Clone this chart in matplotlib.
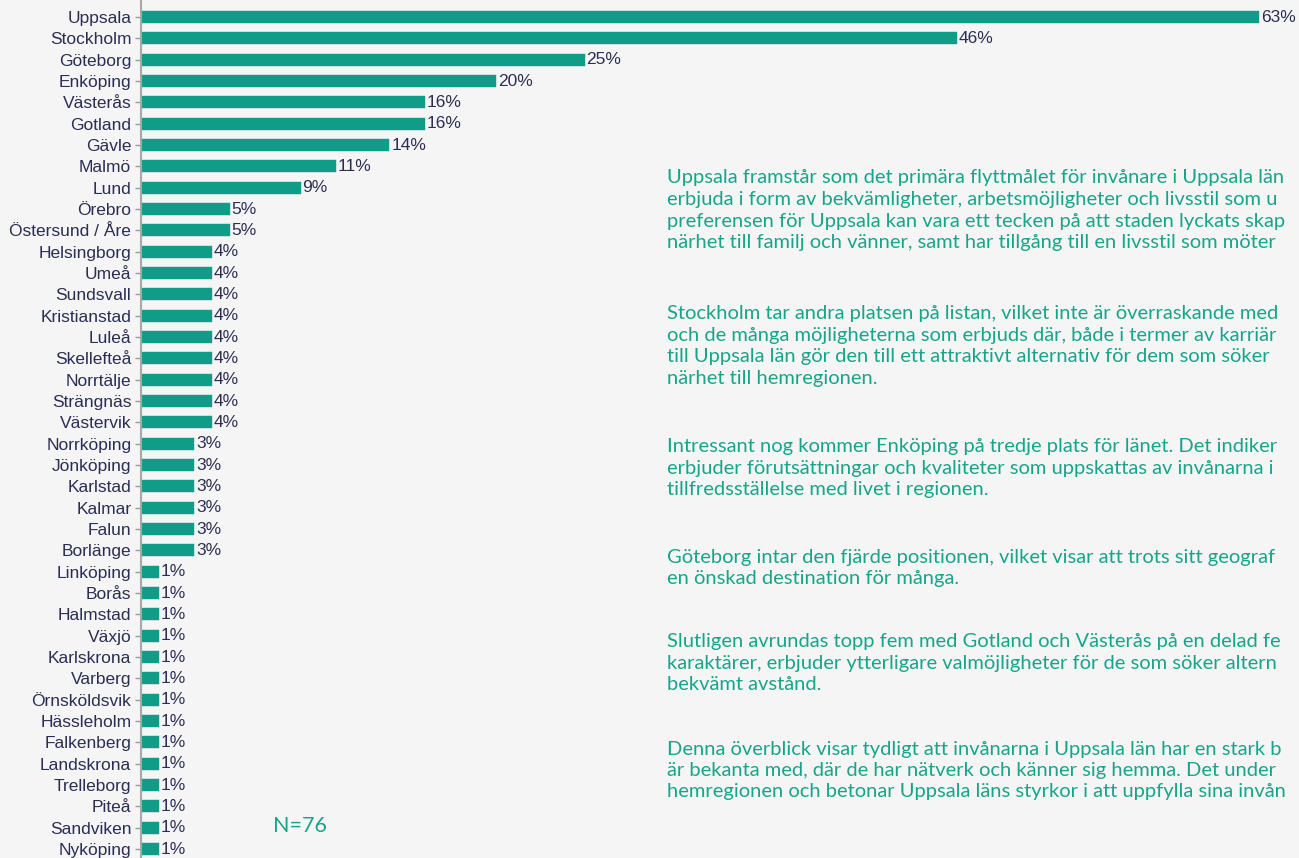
import matplotlib
matplotlib.use("Agg")
import matplotlib.pyplot as plt

# ---- data ----
cities = ["Uppsala", "Stockholm", "Göteborg", "Enköping", "Västerås", "Gotland", "Gävle",
          "Malmö", "Lund", "Örebro", "Östersund / Åre", "Helsingborg", "Umeå", "Sundsvall",
          "Kristianstad", "Luleå", "Skellefteå", "Norrtälje", "Strängnäs", "Västervik",
          "Norrköping", "Jönköping", "Karlstad", "Kalmar", "Falun", "Borlänge", "Linköping",
          "Borås", "Halmstad", "Växjö", "Karlskrona", "Varberg", "Örnsköldsvik", "Hässleholm",
          "Falkenberg", "Landskrona", "Trelleborg", "Piteå", "Sandviken", "Nyköping"]
shares = [63, 46, 25, 20, 16, 16, 14, 11, 9, 5, 5, 4, 4, 4, 4, 4, 4, 4, 4, 4,
          3, 3, 3, 3, 3, 3, 1, 1, 1, 1, 1, 1, 1, 1, 1, 1, 1, 1, 1, 1]
value_labels = [f"{v}%" for v in shares]
n_label = "N=76"

# commentary lines as visible in the reference (its right edge crops them)
paragraphs = [
    ["Uppsala framstår som det primära flyttmålet för invånare i Uppsala län",
     "erbjuda i form av bekvämligheter, arbetsmöjligheter och livsstil som u",
     "preferensen för Uppsala kan vara ett tecken på att staden lyckats skap",
     "närhet till familj och vänner, samt har tillgång till en livsstil som möter"],
    ["Stockholm tar andra platsen på listan, vilket inte är överraskande med",
     "och de många möjligheterna som erbjuds där, både i termer av karriär",
     "till Uppsala län gör den till ett attraktivt alternativ för dem som söker",
     "närhet till hemregionen."],
    ["Intressant nog kommer Enköping på tredje plats för länet. Det indiker",
     "erbjuder förutsättningar och kvaliteter som uppskattas av invånarna i",
     "tillfredsställelse med livet i regionen."],
    ["Göteborg intar den fjärde positionen, vilket visar att trots sitt geograf",
     "en önskad destination för många."],
    ["Slutligen avrundas topp fem med Gotland och Västerås på en delad fe",
     "karaktärer, erbjuder ytterligare valmöjligheter för de som söker altern",
     "bekvämt avstånd."],
    ["Denna överblick visar tydligt att invånarna i Uppsala län har en stark b",
     "är bekanta med, där de har nätverk och känner sig hemma. Det under",
     "hemregionen och betonar Uppsala läns styrkor i att uppfylla sina invån"],
]

# ---- style ----
BG = "#f5f5f5"
BAR = "#109d87"
TEAL_TXT = "#17a58a"
LABEL = "#2b2e52"
W, H = 1299, 858

fig = plt.figure(figsize=(W / 100, H / 100), dpi=100, facecolor=BG)
ax_left = 141 / W
ax = fig.add_axes([ax_left, 0, 1 - ax_left, 1], facecolor=BG)

y = list(range(len(cities)))
ax.barh(y, shares, height=0.55, color=BAR, edgecolor=BAR, linewidth=0.3)

px_per_unit = (1259 - 141) / 63
ax.set_xlim(0, (W - 141) / px_per_unit)
row = (849 - 17) / 39
ax.set_ylim(39 + (H - 849) / row, -17 / row)

for yi, v, lab in zip(y, shares, value_labels):
    ax.text(v + 0.1, yi, lab, va="center", ha="left", fontsize=12.5,
            family="Liberation Sans", color=LABEL)

ax.set_yticks(y)
ax.set_yticklabels(cities, fontsize=12.5, family="Liberation Sans", color=LABEL)
ax.tick_params(axis="y", length=4, width=1, color="#9a9a9a", pad=3)
ax.set_xticks([])
for s in ["top", "right", "bottom"]:
    ax.spines[s].set_visible(False)
ax.spines["left"].set_color("#a8a8a8")
ax.spines["left"].set_linewidth(1.5)

# ---- commentary text ----
first_lines = [178, 314, 447, 557, 642, 749]
line_h = 21.5
for para, y0 in zip(paragraphs, first_lines):
    for i, line in enumerate(para):
        ypx = y0 + i * line_h
        fig.text(667 / W, 1 - ypx / H, line, ha="left", va="center",
                 fontsize=14.5, family="Lato", color=TEAL_TXT)

fig.text(273 / W, 1 - 826 / H, n_label, ha="left", va="center",
         fontsize=15.5, family="Lato", color=TEAL_TXT)

fig.savefig("out.png", dpi=100, facecolor=BG)
